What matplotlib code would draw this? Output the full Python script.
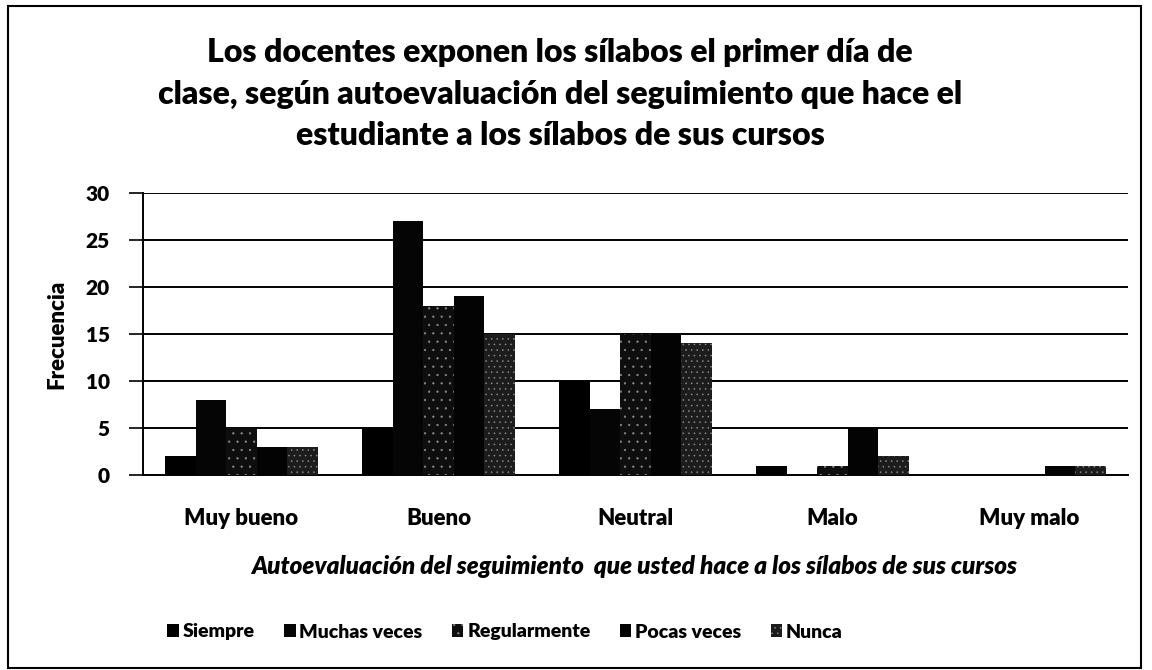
import numpy as np
import matplotlib
matplotlib.use("Agg")
import matplotlib.pyplot as plt
from matplotlib.patches import Rectangle

# data
categorias = ["Muy bueno", "Bueno", "Neutral", "Malo", "Muy malo"]
series = ["Siempre", "Muchas veces", "Regularmente", "Pocas veces", "Nunca"]
siempre = [2, 5, 10, 1, 0]
muchas_veces = [8, 27, 7, 0, 0]
regularmente = [5, 18, 15, 1, 0]
pocas_veces = [3, 19, 15, 5, 1]
nunca = [3, 15, 14, 2, 1]
valores = [siempre, muchas_veces, regularmente, pocas_veces, nunca]

colores = ["#000000", "#050505", "#0e0e0e", "#030303", "#1c1c1c"]
tramas = [None, None, "..", None, "..."]

plt.rcParams["font.family"] = ["Lato", "DejaVu Sans"]
plt.rcParams["hatch.linewidth"] = 0.4

W, H = 1152, 670
fig = plt.figure(figsize=(W / 100, H / 100), dpi=100)
peso = "heavy"

# outer frame of the chart
fig.patches.append(Rectangle((8 / W, 1 - 668 / H), 1133 / W, 662 / H,
                             transform=fig.transFigure, fill=False,
                             edgecolor="black", linewidth=1.5))

ax = fig.add_axes([143 / W, 1 - 475 / H, 985 / W, 282 / H])

x = np.arange(len(categorias))
w = 0.155
for j, (nombre, vals) in enumerate(zip(series, valores)):
    ax.bar(x + (j - 2) * w, vals, width=w, color=colores[j], label=nombre,
           hatch=tramas[j], edgecolor="#8a8a8a" if tramas[j] else colores[j],
           linewidth=0, zorder=3)

ax.set_xlim(-0.5, len(categorias) - 0.5)
ax.set_ylim(0, 30)
ax.set_yticks(range(0, 31, 5))
ax.yaxis.grid(True, color="black", linewidth=1.4, zorder=0)
ax.set_axisbelow(True)
ax.tick_params(axis="y", length=10, width=1.2, direction="out", pad=14,
               labelsize=15)
ax.tick_params(axis="x", length=0, pad=24, labelsize=16)
ax.set_xticks(x)
ax.set_xticklabels(categorias)
for t in ax.get_yticklabels() + ax.get_xticklabels():
    t.set_fontweight(peso)
for s in ["top", "right"]:
    ax.spines[s].set_visible(False)
ax.spines["left"].set_linewidth(1.4)
ax.spines["bottom"].set_linewidth(1.4)

fig.text(57 / W, 1 - 334 / H, "Frecuencia", rotation=90, ha="center",
         va="center", fontsize=16, fontweight=peso)
fig.text(634 / W, 1 - 566 / H,
         "Autoevaluación del seguimiento  que usted hace a los sílabos de sus cursos",
         ha="center", va="center", fontsize=17.5, fontweight=peso,
         style="italic")

titulo = ("Los docentes exponen los sílabos el primer día de\n"
          "clase, según autoevaluación del seguimiento que hace el\n"
          "estudiante a los sílabos de sus cursos")
fig.text(560 / W, 1 - 94 / H, titulo, ha="center", va="center",
         fontsize=23, fontweight=peso, linespacing=1.5)

leg = fig.legend(loc="center", bbox_to_anchor=(505 / W, 1 - 632 / H),
                 ncol=5, frameon=False, fontsize=14, handlelength=0.6,
                 handleheight=0.6, handletextpad=0.2, columnspacing=1.5)
for t in leg.get_texts():
    t.set_fontweight(peso)

fig.savefig("out.png", dpi=100)
